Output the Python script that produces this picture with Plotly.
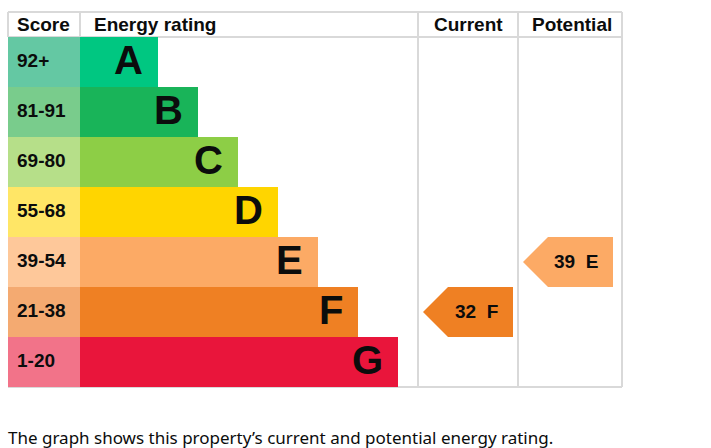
import plotly.graph_objects as go

# ---------------- data ----------------
bands = ["A", "B", "C", "D", "E", "F", "G"]
score_ranges = ["92+", "81-91", "69-80", "55-68", "39-54", "21-38", "1-20"]
band_min_score = [92, 81, 69, 55, 39, 21, 1]
band_colors = ["#00c781", "#19b459", "#8dce46", "#ffd500", "#fcaa65", "#ef8023", "#e9153b"]
score_colors = ["#64c8a3", "#79cc8c", "#b6df89", "#ffe666", "#fec89a", "#f4aa71", "#f27389"]
headers = ["Score", "Energy rating", "Current", "Potential"]
current_score = 32
potential_score = 39
caption = "The graph shows this property\u2019s current and potential energy rating."

# ---------------- layout constants (pixels) ----------------
W, H = 711, 448
LEFT = 8
SCORE_W = 72
BAR0 = LEFT + SCORE_W
BAR_FIRST = 78
BAR_STEP = 40
CUR_L, POT_L, RIGHT = 418, 518, 622
ARROW_W = 90
ROW_TOP_PX, ROW_H_PX = 37, 50
FONT = "Liberation Sans, Arial, sans-serif"
TXT = "#0b0c0c"
GRID = "#d9d9d9"
PAD = 2  # annotation inner padding compensation


def px_to_y(p):
    return (p - ROW_TOP_PX) / ROW_H_PX - 0.5


def band_index(score):
    for i, m in enumerate(band_min_score):
        if score >= m:
            return i
    return len(bands) - 1


rows = list(range(len(bands)))
bar_lengths = [BAR_FIRST + BAR_STEP * i for i in rows]

fig = go.Figure()

# score column cells
fig.add_trace(go.Bar(
    y=rows, x=[SCORE_W] * len(rows), base=LEFT, orientation="h", width=1,
    marker=dict(color=score_colors, line=dict(width=0)), hoverinfo="skip",
    showlegend=False,
))
# energy rating bars
fig.add_trace(go.Bar(
    y=rows, x=bar_lengths, base=BAR0, orientation="h", width=1,
    marker=dict(color=band_colors, line=dict(width=0)), hoverinfo="skip",
    showlegend=False,
))

annotations = []
for i in rows:
    annotations.append(dict(
        x=LEFT + 9 - PAD, y=i, xref="x", yref="y", text="<b>%s</b>" % score_ranges[i],
        xanchor="left", yanchor="middle", showarrow=False, yshift=2,
        font=dict(family=FONT, size=19, color=TXT),
    ))
    annotations.append(dict(
        x=BAR0 + bar_lengths[i] - 15 + PAD, y=i, xref="x", yref="y", text="<b>%s</b>" % bands[i],
        xanchor="right", yanchor="middle", showarrow=False, yshift=2,
        font=dict(family=FONT, size=40, color=TXT),
    ))

# arrows for current / potential
for score, col_l in [(current_score, CUR_L), (potential_score, POT_L)]:
    r = band_index(score)
    tip = col_l + 5
    right = tip + ARROW_W
    fig.add_trace(go.Scatter(
        x=[tip, tip + 25, right, right, tip + 25, tip],
        y=[r, r - 0.5, r - 0.5, r + 0.5, r + 0.5, r],
        mode="lines", fill="toself", fillcolor=band_colors[r],
        line=dict(width=0, color=band_colors[r]), hoverinfo="skip", showlegend=False,
    ))
    annotations.append(dict(
        x=tip + 53, y=r, xref="x", yref="y",
        text="<b>%d\u00a0\u00a0%s</b>" % (score, bands[r]),
        xanchor="center", yanchor="middle", showarrow=False, yshift=1,
        font=dict(family=FONT, size=19, color=TXT),
    ))

# headers
hy = px_to_y(24.5)
header_pos = [(LEFT + 9 - PAD, "left"), (BAR0 + 14 - PAD, "left"),
              ((CUR_L + POT_L) / 2, "center"), ((POT_L + RIGHT) / 2 + 2, "center")]
for text, (hx, anc) in zip(headers, header_pos):
    annotations.append(dict(
        x=hx, y=hy, xref="x", yref="y", text="<b>%s</b>" % text,
        xanchor=anc, yanchor="middle", showarrow=False,
        font=dict(family=FONT, size=19, color=TXT),
    ))

# caption
annotations.append(dict(
    x=LEFT - PAD, y=px_to_y(437), xref="x", yref="y", text=caption,
    xanchor="left", yanchor="middle", showarrow=False,
    font=dict(family="Noto Sans, sans-serif", size=17, color=TXT),
))

# grid lines
top, hb, bot = px_to_y(12), px_to_y(37), px_to_y(387)
lines = [
    (LEFT, top, RIGHT, top), (LEFT, hb, RIGHT, hb), (LEFT, bot, RIGHT, bot),
    (LEFT, top, LEFT, hb), (BAR0, top, BAR0, hb),
    (CUR_L, top, CUR_L, bot), (POT_L, top, POT_L, bot), (RIGHT, top, RIGHT, bot),
]
shapes = [dict(type="line", x0=a, y0=b, x1=c, y1=d, xref="x", yref="y",
               line=dict(color=GRID, width=2), layer="below") for a, b, c, d in lines]

fig.update_layout(
    width=W, height=H, margin=dict(l=0, r=0, t=0, b=0),
    paper_bgcolor="white", plot_bgcolor="white",
    barmode="overlay", showlegend=False,
    xaxis=dict(range=[0, W], visible=False, fixedrange=True),
    yaxis=dict(range=[px_to_y(H), px_to_y(0)], visible=False, fixedrange=True),
    annotations=annotations, shapes=shapes,
)

fig.write_html("out.html", config={"displayModeBar": False},
               post_script="document.body.style.margin='0';document.body.style.overflow='hidden';")
